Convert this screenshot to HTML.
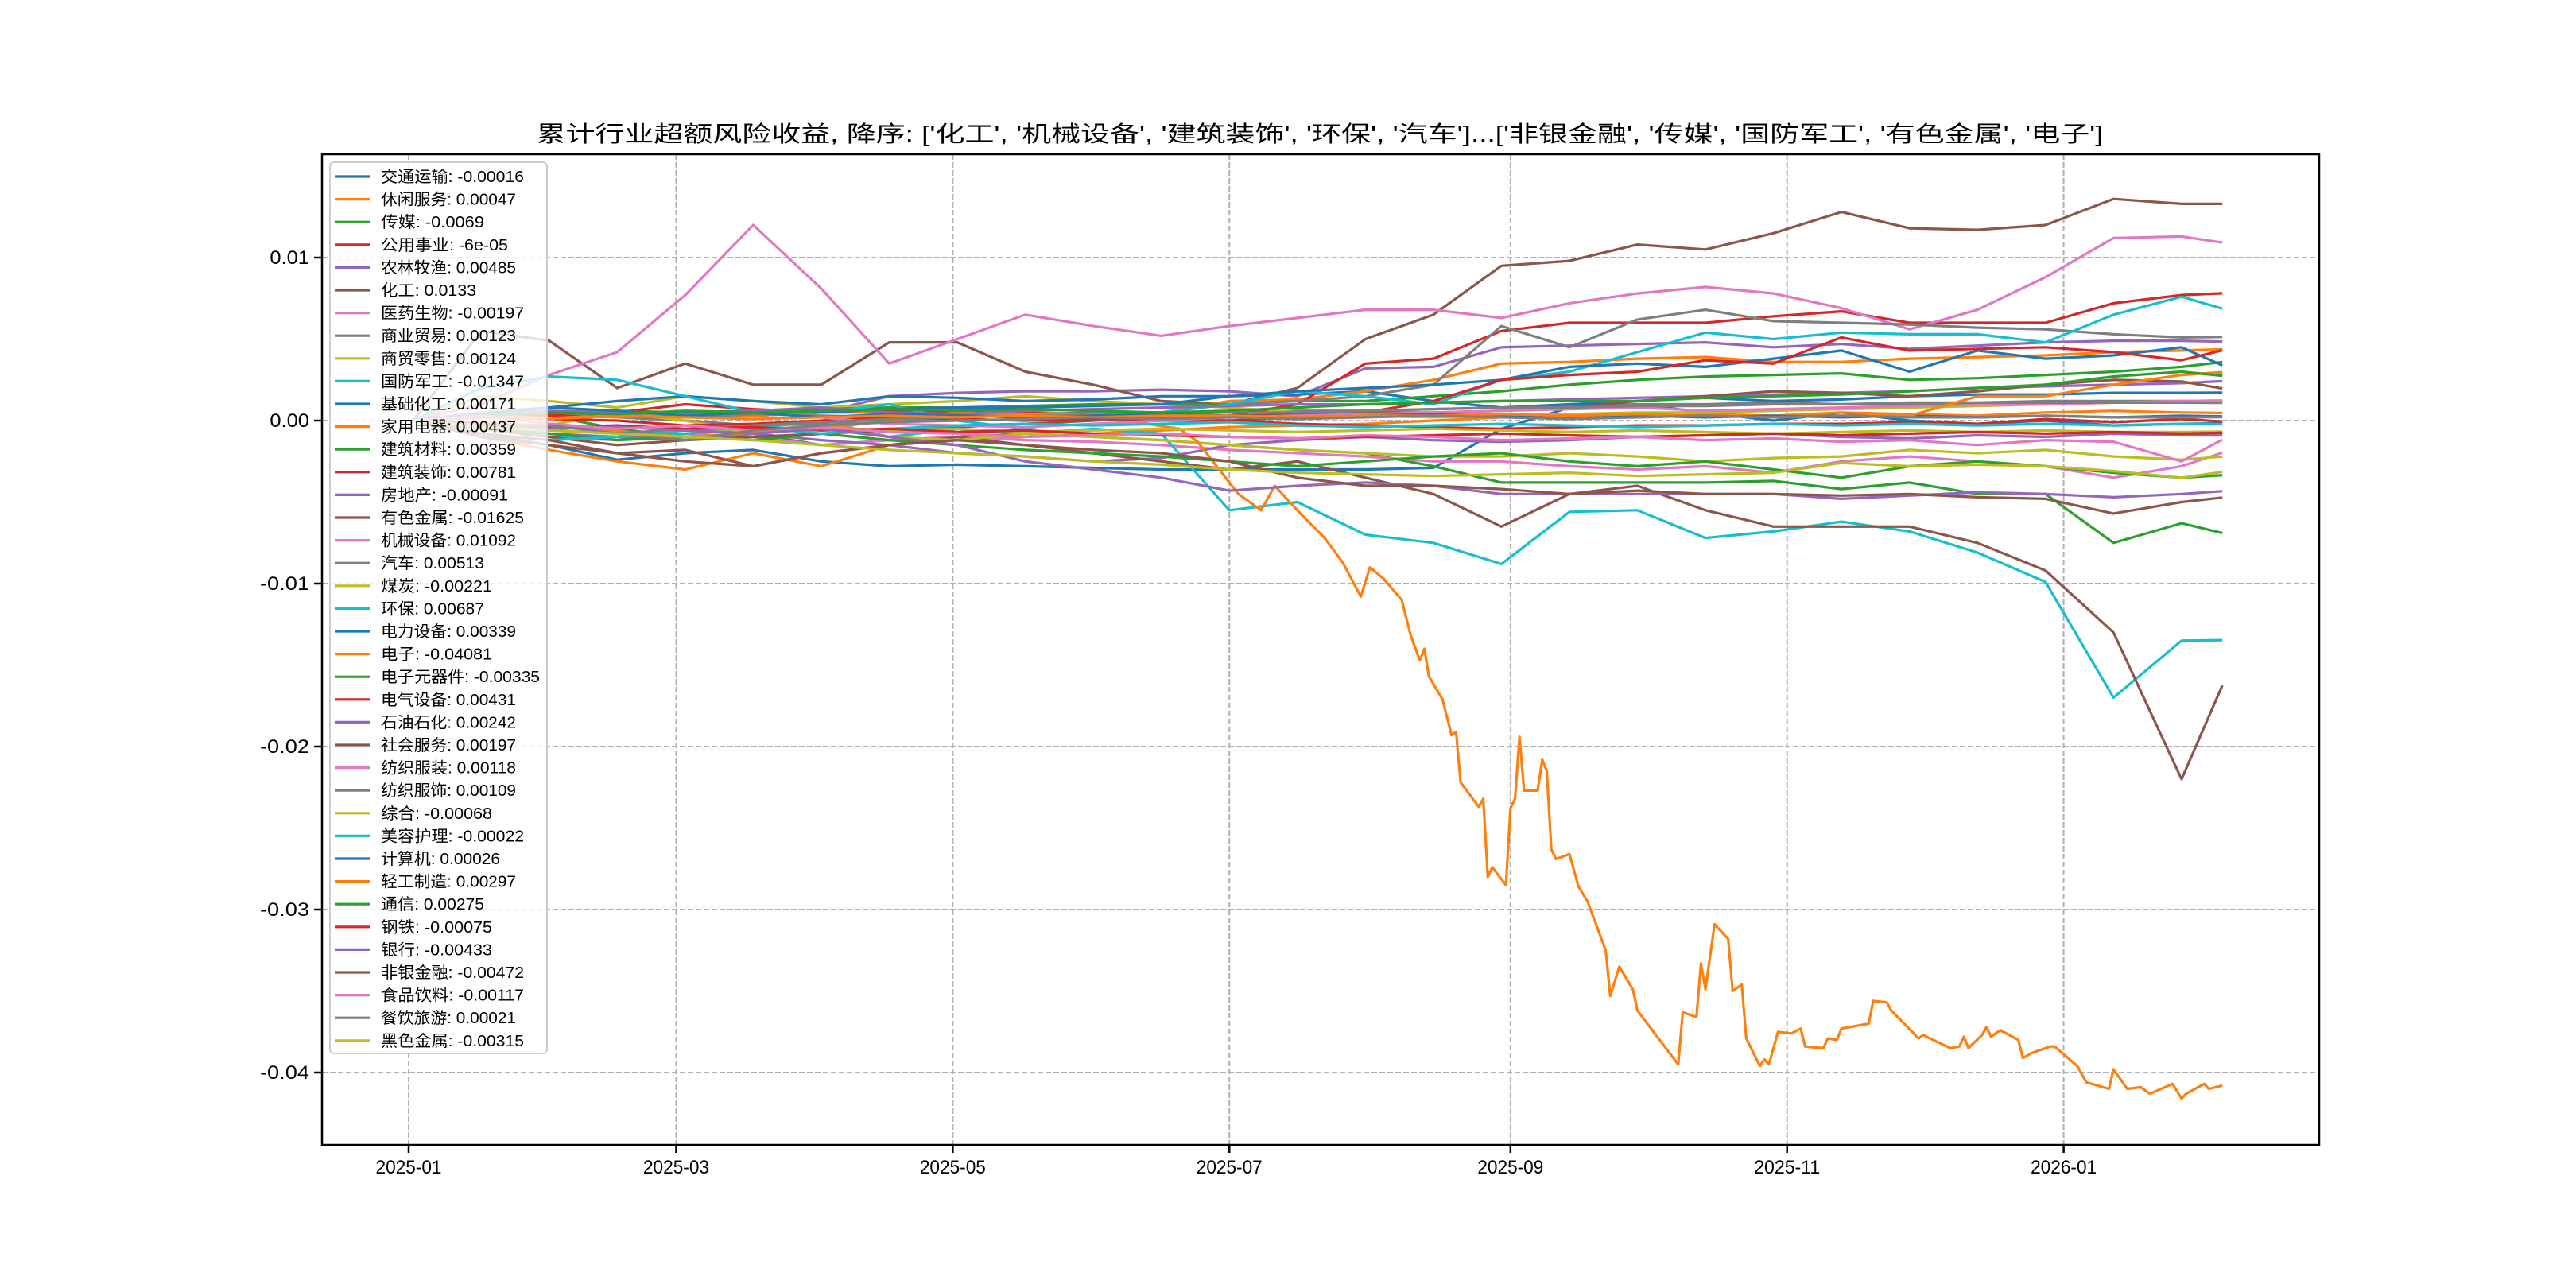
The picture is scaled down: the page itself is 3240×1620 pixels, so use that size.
<!DOCTYPE html>
<html><head><meta charset="utf-8"><title>累计行业超额风险收益</title>
<style>html,body{margin:0;padding:0;background:#fff;}svg{display:block;}</style></head>
<body>
<svg id="chart" xmlns="http://www.w3.org/2000/svg" width="3240" height="1620" viewBox="0 0 3240 1620">
<rect x="0" y="0" width="3240" height="1620" fill="#fff"/>
<g id="grid"></g>
<g id="series"></g>
<g id="axes"></g>
<g id="legend"></g>
<text id="title" x="1660" y="178" text-anchor="middle" font-size="28" font-family="'Liberation Sans','WenQuanYi Zen Hei',sans-serif" fill="#000">累计行业超额风险收益,  降序: ['化工', '机械设备', '建筑装饰', '环保', '汽车']...['非银金融', '传媒', '国防军工', '有色金属', '电子']</text>
</svg>
<script>
// ---- data ----
const gridDays = [1,16,31,46,61,76,91,106,121,136,151,166,181,196,211,226,241,256,271,286,301,316,331,346,361,376,391,400];
const names = ['交通运输','休闲服务','传媒','公用事业','农林牧渔','化工','医药生物','商业贸易','商贸零售','国防军工','基础化工','家用电器','建筑材料','建筑装饰','房地产','有色金属','机械设备','汽车','煤炭','环保','电力设备','电子','电子元器件','电气设备','石油石化','社会服务','纺织服装','纺织服饰','综合','美容护理','计算机','轻工制造','通信','钢铁','银行','非银金融','食品饮料','餐饮旅游','黑色金属'];
const legendValues = ['-0.00016','0.00047','-0.0069','-6e-05','0.00485','0.0133','-0.00197','0.00123','0.00124','-0.01347','0.00171','0.00437','0.00359','0.00781','-0.00091','-0.01625','0.01092','0.00513','-0.00221','0.00687','0.00339','-0.04081','-0.00335','0.00431','0.00242','0.00197','0.00118','0.00109','-0.00068','-0.00022','0.00026','0.00297','0.00275','-0.00075','-0.00433','-0.00472','-0.00117','0.00021','-0.00315'];
const s_jiaotong = [0,-0.0008,-0.0015,-0.0024,-0.002,-0.0018,-0.0025,-0.0028,-0.0027,-0.0028,-0.0029,-0.003,-0.003,-0.003,-0.003,-0.0029,-0.0005,0.0008,0.001,0.0005,0,0.0005,0,-0.0002,0,-0.0003,-0.0002,-0.00016];
const s_xiuxian = [0,-0.001,-0.0018,-0.0025,-0.003,-0.002,-0.0028,-0.0015,-0.0012,-0.001,-0.0008,-0.0006,-0.0004,-0.0003,-0.0002,0,0.0002,0.0003,0.0002,0.0004,0.0003,0.0005,0.0004,0.0003,0.0005,0.0006,0.0005,0.00047];
const s_chuanmei = [0,0.0005,0.0003,-0.0005,-0.001,-0.0008,-0.0015,-0.0012,-0.001,-0.0008,-0.001,-0.0012,-0.0015,-0.0018,-0.002,-0.0028,-0.0038,-0.0038,-0.0038,-0.0038,-0.0037,-0.0042,-0.0038,-0.0045,-0.0045,-0.0075,-0.0063,-0.0069];
const s_gongyong = [0,0.0002,0.0004,0.0003,0.0002,0.0003,0.0005,0.0006,0.0004,0.0003,0.0002,0.0001,0,-0.0002,-0.0003,-0.0004,-0.0005,-0.0004,-0.0003,-0.0003,-0.0002,-0.0002,-0.0001,-0.0002,0.0001,-0.0001,0.0001,-0.00006];
const s_nonglin = [0,0.0003,0.0005,0.0005,0.0003,0.0003,0.0005,0.0015,0.0017,0.0018,0.0018,0.0019,0.0018,0.0015,0.0032,0.0033,0.0045,0.0046,0.0047,0.0048,0.0045,0.0047,0.0044,0.0046,0.0048,0.0049,0.0049,0.00485];
const s_huagong = [0,0.0055,0.0049,0.002,0.0035,0.0022,0.0022,0.0048,0.0048,0.003,0.0022,0.0012,0.001,0.002,0.005,0.0065,0.0095,0.0098,0.0108,0.0105,0.0115,0.0128,0.0118,0.0117,0.012,0.0136,0.0133,0.0133];
const s_yiyao = [0,-0.0005,-0.001,-0.0012,-0.0008,-0.001,-0.0015,-0.0012,-0.001,-0.0012,-0.0013,-0.0015,-0.0018,-0.002,-0.0022,-0.0025,-0.0025,-0.0028,-0.003,-0.0028,-0.0032,-0.0025,-0.0022,-0.0025,-0.0028,-0.0035,-0.0028,-0.00197];
const s_shangye = [0,0.0003,0.0005,0.0002,0,-0.0003,-0.0002,0,0.0002,0.0003,0.0004,0.0005,0.0005,0.0006,0.0006,0.0007,0.0008,0.0009,0.001,0.001,0.0011,0.001,0.0011,0.0011,0.0012,0.0012,0.0012,0.00123];
const s_shangmao = [0,0.0015,0.0012,0.0008,0.0015,0.0012,0.0008,0.001,0.0012,0.0015,0.0012,0.001,0.0008,0.0005,0.0003,0.0002,0.0003,0.0004,0.0005,0.0005,0.0006,0.0007,0.0008,0.0009,0.001,0.0011,0.0012,0.00124];
const s_guofang = [0,-0.0005,-0.001,-0.001,-0.0008,-0.0005,0,-0.001,-0.0005,-0.0008,-0.0005,-0.0008,-0.0055,-0.005,-0.007,-0.0075,-0.0088,-0.0056,-0.0055,-0.0072,-0.0068,-0.0062,-0.0068,-0.0081,-0.0099,-0.017,-0.0135,-0.01347];
const s_jichu = [0,0.0005,0.0008,0.0012,0.0015,0.0012,0.001,0.0015,0.0014,0.0012,0.0013,0.0015,0.0015,0.0016,0.0018,0.0012,0.0008,0.001,0.0012,0.0014,0.0012,0.0013,0.0015,0.0016,0.0016,0.0017,0.0017,0.00171];
const s_jiadian = [0,0.0002,0.0003,0.0002,0.0004,0.0003,0.0005,0.0005,0.0004,0.0005,0.0004,0.0005,0.0012,0.0013,0.0018,0.0025,0.0035,0.0036,0.0038,0.0039,0.0036,0.0036,0.0038,0.0039,0.004,0.0042,0.0043,0.00437];
const s_jiancai = [0,0.0003,0.0005,0.0006,0.0005,0.0006,0.0007,0.0008,0.0008,0.0009,0.001,0.001,0.001,0.0012,0.0012,0.0015,0.0018,0.0022,0.0025,0.0027,0.0028,0.0029,0.0025,0.0026,0.0028,0.003,0.0033,0.00359];
const s_jianzhuang = [0,0.0005,0.0003,0.0005,0.001,0.0007,0.0005,0.0007,0.0005,0.0005,0.0003,0,0.0003,0.001,0.0035,0.0038,0.0055,0.006,0.006,0.006,0.0064,0.0067,0.006,0.006,0.006,0.0072,0.0077,0.00781];
const s_fangdichan = [0,-0.0003,-0.0008,-0.001,-0.0012,-0.0008,-0.0012,-0.0015,-0.002,-0.0022,-0.0025,-0.0023,-0.0015,-0.0012,-0.001,-0.0012,-0.0013,-0.0012,-0.001,-0.0009,-0.0008,-0.001,-0.0011,-0.0009,-0.001,-0.0008,-0.0009,-0.00091];
const s_youse = [0,-0.001,-0.0015,-0.002,-0.0025,-0.0028,-0.002,-0.0015,-0.001,-0.0015,-0.002,-0.0025,-0.003,-0.0025,-0.0035,-0.0045,-0.0065,-0.0045,-0.004,-0.0055,-0.0065,-0.0065,-0.0065,-0.0075,-0.0092,-0.013,-0.022,-0.01625];
const s_jixie = [0,0.001,0.0028,0.0042,0.0077,0.012,0.0081,0.0035,0.005,0.0065,0.0058,0.0052,0.0058,0.0063,0.0068,0.0068,0.0063,0.0072,0.0078,0.0082,0.0078,0.0069,0.0056,0.0068,0.0088,0.0112,0.0113,0.01092];
const s_qiche = [0,0.0003,0.0005,0.0003,0.0002,0.0004,0.0003,0.0002,0.0003,0.0004,0.0005,0.0005,0.001,0.0012,0.0015,0.0022,0.0058,0.0045,0.0062,0.0068,0.0061,0.006,0.0059,0.0057,0.0056,0.0053,0.0051,0.00513];
const s_meitan = [0,-0.0005,-0.0003,0.0005,0,-0.0008,-0.0003,-0.001,-0.0012,-0.0008,-0.001,-0.0012,-0.0015,-0.0018,-0.002,-0.0022,-0.0022,-0.002,-0.0022,-0.0025,-0.0023,-0.0022,-0.0018,-0.002,-0.0018,-0.0022,-0.0024,-0.00221];
const s_huanbao = [0,0.002,0.0027,0.0025,0.0015,0.0005,0.0005,0.001,0,-0.0005,0.0003,0.0005,0.001,0.0018,0.0015,0.001,0.0025,0.003,0.0042,0.0054,0.005,0.0054,0.0053,0.0053,0.0048,0.0065,0.0076,0.00687];
const s_dianli = [0,0.0003,0.0005,0.0004,0.0005,0.0006,0.0005,0.0007,0.0008,0.0008,0.0009,0.001,0.0015,0.0018,0.002,0.0022,0.0025,0.0033,0.0035,0.0033,0.0038,0.0043,0.003,0.0043,0.0038,0.004,0.0045,0.00339];
const s_yuanqijian = [0,-0.0005,-0.0008,-0.0012,-0.001,-0.0012,-0.0008,-0.0012,-0.0015,-0.0018,-0.002,-0.0022,-0.0025,-0.0028,-0.0025,-0.0022,-0.002,-0.0025,-0.0028,-0.0025,-0.003,-0.0035,-0.0028,-0.0025,-0.0028,-0.0032,-0.0035,-0.00335];
const s_dianqi = [0,0.0002,0.0001,0,-0.0003,-0.0002,0,0.0002,0.0001,0,0.0001,0,0,0.0002,0.0005,0.0012,0.0025,0.0028,0.003,0.0037,0.0035,0.0051,0.0043,0.0044,0.0045,0.0042,0.0037,0.00431];
const s_shiyou = [0,0.0004,0.0006,0.0005,0.0004,0.0006,0.0008,0.0005,0.0004,0.0006,0.0007,0.0008,0.0009,0.001,0.001,0.0011,0.0012,0.0013,0.0014,0.0015,0.0016,0.0017,0.0018,0.002,0.0021,0.0022,0.0023,0.00242];
const s_shehui = [0,-0.0005,-0.001,-0.0015,-0.0012,-0.001,-0.0008,-0.0006,-0.0004,-0.0002,0,0.0002,0.0003,0.0004,0.0005,0.0005,0.0006,0.0008,0.0012,0.0015,0.0018,0.0017,0.0015,0.0018,0.0022,0.0025,0.0024,0.00197];
const s_fangzhuang = [0,0.0005,0.0008,0.0006,0.0003,0.0005,0.0002,-0.0002,-0.0003,-0.0004,-0.0002,0,0.0002,0.0003,0.0004,0.0005,0.0006,0.0007,0.0008,0.0006,0.0007,0.0008,0.0009,0.001,0.001,0.0011,0.0012,0.00118];
const s_fangshi = [0,-0.0004,-0.0006,-0.0008,-0.0005,-0.0003,-0.0001,0.0001,0.0002,0.0003,0.0003,0.0004,0.0005,0.0005,0.0006,0.0007,0.0008,0.0008,0.0009,0.0009,0.001,0.001,0.001,0.0011,0.0011,0.0011,0.0011,0.00109];
const s_zonghe = [0,-0.0003,-0.0005,-0.0004,-0.0006,-0.0005,-0.0004,-0.0006,-0.0005,-0.0007,-0.0006,-0.0005,-0.0006,-0.0007,-0.0006,-0.0005,-0.0006,-0.0007,-0.0006,-0.0007,-0.0008,-0.0007,-0.0006,-0.0007,-0.0006,-0.0007,-0.0007,-0.00068];
const s_meirong = [0,-0.0008,-0.0012,-0.001,-0.0006,-0.0004,-0.0008,-0.0005,-0.0003,-0.0002,-0.0003,-0.0002,-0.0001,-0.0003,-0.0004,-0.0003,-0.0002,-0.0003,-0.0004,-0.0003,-0.0002,-0.0003,-0.0002,-0.0003,-0.0002,-0.0003,-0.0002,-0.00022];
const s_jisuanji = [0,0.0004,0.0008,0.0006,0.0003,0.0005,0.0002,0.0004,0.0003,0.0002,0.0003,0.0004,0.0003,0.0002,0.0003,0.0004,0.0003,0.0002,0.0003,0.0002,0.0003,0.0002,0.0003,0.0002,0.0003,0.0002,0.0003,0.00026];
const s_qinggong = [0,0.0002,0.0001,0.0003,0.0002,0.0001,0.0002,0.0003,0.0002,0.0003,0.0002,0.0003,0.0003,0.0002,0.0003,0.0003,0.0004,0.0003,0.0004,0.0003,0.0002,0.0003,0.0003,0.0015,0.0015,0.0022,0.0028,0.00297];
const s_tongxin = [0,0.0003,0.0005,0.0004,0.0006,0.0005,0.0006,0.0007,0.0006,0.0007,0.0006,0.0005,0.0006,0.0008,0.001,0.0011,0.0012,0.0012,0.0012,0.0014,0.0015,0.0016,0.0018,0.002,0.0022,0.0027,0.003,0.00275];
const s_gangtie = [0,-0.0002,-0.0004,-0.0003,-0.0005,-0.0004,-0.0006,-0.0005,-0.0007,-0.0006,-0.0008,-0.0009,-0.001,-0.0011,-0.001,-0.0009,-0.0008,-0.0009,-0.001,-0.0009,-0.0008,-0.0009,-0.0008,-0.0007,-0.0008,-0.0007,-0.0008,-0.00075];
const s_yinhang = [0,-0.0003,-0.0005,-0.0004,-0.0006,-0.0008,-0.0005,-0.001,-0.0015,-0.0025,-0.003,-0.0035,-0.0043,-0.004,-0.0038,-0.004,-0.0045,-0.0045,-0.0045,-0.0045,-0.0045,-0.0048,-0.0046,-0.0044,-0.0045,-0.0047,-0.0045,-0.00433];
const s_feiyin = [0,-0.0008,-0.0012,-0.002,-0.0018,-0.0028,-0.002,-0.0015,-0.0012,-0.0015,-0.0018,-0.002,-0.0025,-0.0035,-0.004,-0.004,-0.0042,-0.0045,-0.0043,-0.0045,-0.0045,-0.0046,-0.0045,-0.0047,-0.0048,-0.0057,-0.005,-0.00472];
const s_shipin = [0,0.0003,-0.0002,-0.0005,-0.0003,-0.0006,-0.0004,-0.0007,-0.0008,-0.001,-0.0009,-0.0008,-0.001,-0.0011,-0.0009,-0.001,-0.0012,-0.0011,-0.001,-0.0012,-0.0011,-0.0013,-0.0012,-0.0015,-0.0012,-0.0013,-0.0025,-0.00117];
const s_canyin = [0,-0.0005,-0.0003,-0.0008,-0.0012,-0.0006,-0.0003,-0.0001,0,0.0001,0.0002,0.0001,0.0002,0.0001,0.0002,0.0003,0.0002,0.0001,0.0002,0.0003,0.0002,0.0003,0.0002,0.0002,0.0003,0.0002,0.0002,0.00021];
const s_heise = [0,-0.0004,-0.0006,-0.0008,-0.001,-0.0012,-0.0015,-0.0018,-0.002,-0.0022,-0.0025,-0.0027,-0.003,-0.0032,-0.0033,-0.0034,-0.0033,-0.0032,-0.0034,-0.0033,-0.0032,-0.0026,-0.0028,-0.0027,-0.0028,-0.0031,-0.0035,-0.00315];
const elecDays = [1,31,61,91,121,151,170,174,181,183,188,191,197,202,206,210,212,215,219,221,223,224,225,228,230,231,232,236,237,238,239,242,243,244,245,246,249,250,251,252,253,256,258,260,264,265,267,270,271,280,281,284,285,286,288,291,292,294,295,298,299,300,302,305,307,308,312,313,315,316,322,323,326,327,333,334,340,342,343,344,347,348,349,351,355,356,358,362,363,368,370,375,376,379,382,384,389,391,392,396,397,400];
const elecVals = [0,-0.0003,-0.001,-0.0005,0.0005,0.0003,-0.0005,-0.0013,-0.0038,-0.0045,-0.0055,-0.004,-0.0058,-0.0072,-0.0087,-0.0108,-0.009,-0.0097,-0.011,-0.0132,-0.0147,-0.014,-0.0157,-0.0171,-0.0193,-0.0191,-0.0222,-0.0237,-0.0232,-0.028,-0.0274,-0.0285,-0.0238,-0.0232,-0.0194,-0.0227,-0.0227,-0.0208,-0.0215,-0.0263,-0.0269,-0.0266,-0.0286,-0.0295,-0.0325,-0.0353,-0.0335,-0.0349,-0.0362,-0.0395,-0.0363,-0.0366,-0.0333,-0.0349,-0.0309,-0.0318,-0.035,-0.0346,-0.0379,-0.0396,-0.0392,-0.0395,-0.0375,-0.0376,-0.0373,-0.0384,-0.0385,-0.0379,-0.038,-0.0373,-0.037,-0.0356,-0.0357,-0.0362,-0.0379,-0.0377,-0.0385,-0.0384,-0.0378,-0.0385,-0.0377,-0.0372,-0.0378,-0.0374,-0.038,-0.0391,-0.0388,-0.0384,-0.0384,-0.0396,-0.0406,-0.041,-0.0398,-0.041,-0.0409,-0.0413,-0.0407,-0.0416,-0.0413,-0.0407,-0.041,-0.0408];
const yTickValues = [0.01,0,-0.01,-0.02,-0.03,-0.04];
const yTickLabels = ['0.01','0.00','-0.01','-0.02','-0.03','-0.04'];
const xTickDays = [0,59,120,181,243,304,365];
const xTickLabels = ['2025-01','2025-03','2025-05','2025-07','2025-09','2025-11','2026-01'];

const seriesVals = [s_jiaotong,s_xiuxian,s_chuanmei,s_gongyong,s_nonglin,s_huagong,s_yiyao,s_shangye,s_shangmao,s_guofang,s_jichu,s_jiadian,s_jiancai,s_jianzhuang,s_fangdichan,s_youse,s_jixie,s_qiche,s_meitan,s_huanbao,s_dianli,elecVals,s_yuanqijian,s_dianqi,s_shiyou,s_shehui,s_fangzhuang,s_fangshi,s_zonghe,s_meirong,s_jisuanji,s_qinggong,s_tongxin,s_gangtie,s_yinhang,s_feiyin,s_shipin,s_canyin,s_heise];

// ---- layout ----
const AX = {left:405, right:2917, top:194, bottom:1440};
const colors = ['#1f77b4','#ff7f0e','#2ca02c','#d62728','#9467bd','#8c564b','#e377c2','#7f7f7f','#bcbd22','#17becf'];
const xScale = d => 514 + d * 5.703;
const yScale = v => 529 - v * 20500;
const NS = 'http://www.w3.org/2000/svg';
function mk(tag, attrs, parent){const e=document.createElementNS(NS,tag);for(const k in attrs)e.setAttribute(k,attrs[k]);parent.appendChild(e);return e;}
const FONT = "'Liberation Sans','WenQuanYi Zen Hei',sans-serif";

// grid
const gG = document.getElementById('grid');
yTickValues.forEach((v,i)=>{
  const l = mk('line',{x1:AX.left,x2:AX.right,y1:yScale(v),y2:yScale(v),stroke:'#b0b0b0','stroke-width':2,'stroke-dasharray':'7,3'},gG);
  
  
});
xTickDays.forEach((d,i)=>{
  const l = mk('line',{x1:xScale(d),x2:xScale(d),y1:AX.top,y2:AX.bottom,stroke:'#b0b0b0','stroke-width':2,'stroke-dasharray':'7,3'},gG);
  
  
});

// series
const gS = document.getElementById('series');
seriesVals.forEach((vals,i)=>{
  const days = (vals === elecVals) ? elecDays : gridDays;
  const pts = vals.map((v,j)=>xScale(days[j]).toFixed(1)+','+yScale(v).toFixed(1)).join(' ');
  const p = mk('polyline',{points:pts,fill:'none',stroke:colors[i%10],'stroke-width':3.2,'stroke-linejoin':'round'},gS);
  
  
});

// axes
const gA = document.getElementById('axes');
const frame = mk('rect',{x:AX.left,y:AX.top,width:AX.right-AX.left,height:AX.bottom-AX.top,fill:'none',stroke:'#000','stroke-width':2.5},gA);


yTickValues.forEach((v,i)=>{
  const y=yScale(v);
  const t=mk('line',{x1:AX.left-10,x2:AX.left,y1:y,y2:y,stroke:'#000','stroke-width':2.5},gA);
  
  
  const lb=mk('text',{x:AX.left-16,y:y+8,'text-anchor':'end','font-size':24,'font-family':FONT,fill:'#000',textLength:yTickLabels[i].length*12.4,lengthAdjust:'spacingAndGlyphs'},gA);
  lb.textContent=yTickLabels[i];
  
  
});
xTickDays.forEach((d,i)=>{
  const x=xScale(d);
  const t=mk('line',{x1:x,x2:x,y1:AX.bottom,y2:AX.bottom+10,stroke:'#000','stroke-width':2.5},gA);
  
  
  const lb=mk('text',{x:x,y:1476,'text-anchor':'middle','font-size':24,'font-family':FONT,fill:'#000',textLength:83,lengthAdjust:'spacingAndGlyphs'},gA);
  lb.textContent=xTickLabels[i];
  
  
});

// legend
const gL = document.getElementById('legend');
const box = mk('rect',{x:415,y:204,width:273,height:1121,rx:5,fill:'rgba(255,255,255,0.8)',stroke:'#cccccc','stroke-width':2},gL);


names.forEach((n,i)=>{
  const y = 222 + i*28.6;
  const ln = mk('line',{x1:421,x2:465,y1:y,y2:y,stroke:colors[i%10],'stroke-width':3.2},gL);
  
  
  const label = n + ': ' + legendValues[i];
  const w = n.length*20 + (2+legendValues[i].length)*10;
  const tx = mk('text',{x:479,y:y+7,'font-size':20,'font-family':FONT,fill:'#000',textLength:w,lengthAdjust:'spacingAndGlyphs'},gL);
  tx.textContent = label;
  
  
});
document.getElementById('title').setAttribute('textLength','1971');
document.getElementById('title').setAttribute('lengthAdjust','spacingAndGlyphs');
</script>
</body></html>
